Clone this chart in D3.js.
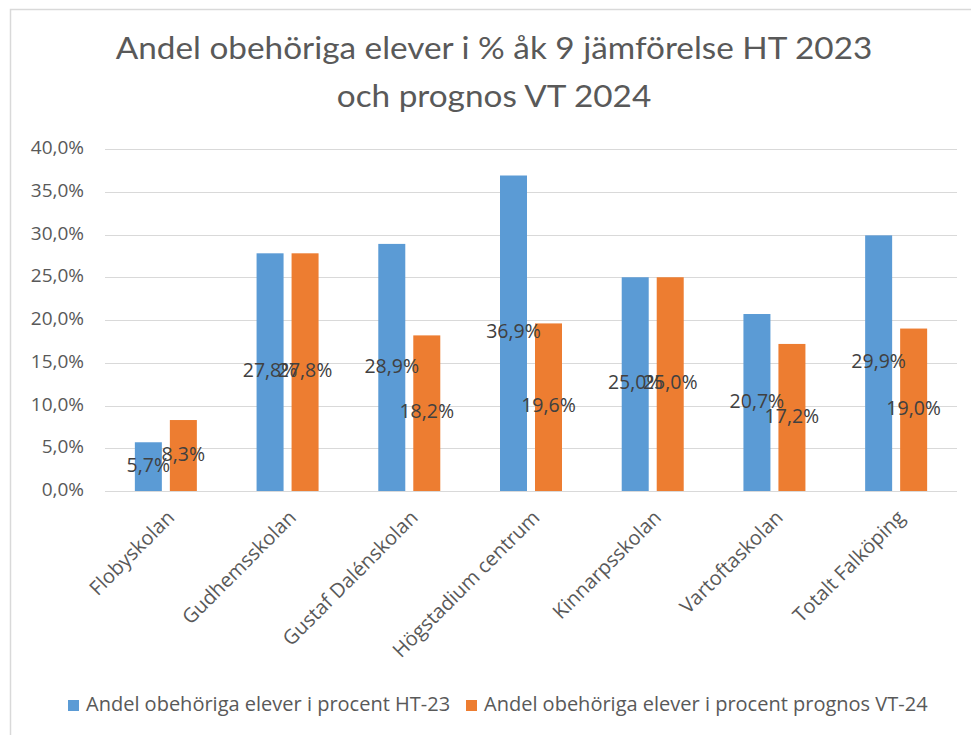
<!DOCTYPE html>
<html><head><meta charset="utf-8">
<script src="https://cdn.jsdelivr.net/npm/d3@7"></script>
<style>body{margin:0;background:#fff}svg{display:block}</style>
</head><body>
<script>
const categories = ["Flobyskolan","Gudhemsskolan","Gustaf Dalénskolan","Högstadium centrum","Kinnarpsskolan","Vartoftaskolan","Totalt Falköping"];
const seriesNames = ["Andel obehöriga elever i procent HT-23","Andel obehöriga elever i procent prognos VT-24"];
const ht23 = [5.7, 27.8, 28.9, 36.9, 25.0, 20.7, 29.9];
const vt24 = [8.3, 27.8, 18.2, 19.6, 25.0, 17.2, 19.0];
const yTicks = [0,5,10,15,20,25,30,35,40];
const titleLines = ["Andel obehöriga elever i % åk 9 jämförelse HT 2023","och prognos VT 2024"];
const colors = ["#5B9BD5","#ED7D31"];

const W = 971, H = 735;
const svg = d3.select("body").append("svg").attr("width",W).attr("height",H);
svg.append("rect").attr("x",10.5).attr("y",9.5).attr("width",W).attr("height",H).attr("fill","#fff").attr("stroke","#D9D9D9").attr("stroke-width",1.5);

const plot = {l:105, r:957, t:149, b:491};
const x0 = d3.scaleBand().domain(categories).range([plot.l, plot.r]).paddingInner(0).paddingOuter(0);
const y = d3.scaleLinear().domain([0,40]).range([plot.b, plot.t]);
const fmt = v => d3.format(".1f")(v).replace(".", ",") + "%";
const FONT = "'Open Sans', sans-serif";

// title (condensed look: scale horizontally to the reference width)
const tg = svg.append("g");
const tt = tg.selectAll("text").data(titleLines).join("text")
  .attr("x",0).attr("y",(d,i)=>i*48).attr("text-anchor","middle").attr("dominant-baseline","middle")
  .attr("font-family","Lato, 'Open Sans', sans-serif").attr("font-size",31).attr("fill","#595959").text(d=>d);
const w1 = tt.nodes()[0].getComputedTextLength();
const k = 757 / w1;
tg.attr("transform",`translate(494,51) scale(${k},1)`);

// gridlines
svg.append("g").selectAll("line").data(yTicks).join("line")
  .attr("x1",plot.l).attr("x2",plot.r).attr("y1",d=>Math.round(y(d))+0.5).attr("y2",d=>Math.round(y(d))+0.5)
  .attr("stroke","#D9D9D9").attr("stroke-width",1.2);

// y axis labels
svg.append("g").selectAll("text").data(yTicks).join("text")
  .attr("x",84).attr("y",d=>y(d)).attr("text-anchor","end").attr("dominant-baseline","middle")
  .attr("font-family",FONT).attr("font-size",19).attr("fill","#595959").text(d=>fmt(d));

const bw = 27, gap = 8;
const series = [ht23, vt24];
const bx = (c, si) => x0(c) + x0.bandwidth()/2 + (si===0 ? -(gap/2+bw) : gap/2);
series.forEach((vals, si) => {
  svg.append("g").selectAll("rect").data(categories).join("rect")
    .attr("x",c=>bx(c,si)).attr("width",bw)
    .attr("y",(c,i)=>y(vals[i])).attr("height",(c,i)=>y(0)-y(vals[i]))
    .attr("fill",colors[si]);
});
// data labels
series.forEach((vals, si) => {
  svg.append("g").selectAll("text").data(categories).join("text")
    .attr("x",c=>bx(c,si)+bw/2).attr("y",(c,i)=>y(vals[i]/2))
    .attr("text-anchor","middle").attr("dominant-baseline","middle")
    .attr("font-family",FONT).attr("font-size",19.5).attr("fill","#404040")
    .text((c,i)=>fmt(vals[i]));
});

// x labels
svg.append("g").selectAll("text").data(categories).join("text")
  .attr("transform",c=>`translate(${x0(c)+x0.bandwidth()/2+6},${515}) rotate(-45)`)
  .attr("text-anchor","end").attr("dominant-baseline","middle")
  .attr("font-family",FONT).attr("font-size",20).attr("fill","#595959").text(c=>c);

// legend
const legX = [68, 466];
const lg = svg.append("g");
seriesNames.forEach((n,i)=>{
  lg.append("rect").attr("x",legX[i]).attr("y",700).attr("width",11).attr("height",11).attr("fill",colors[i]);
  lg.append("text").attr("x",legX[i]+18).attr("y",705.5).attr("dominant-baseline","middle")
    .attr("font-family",FONT).attr("font-size",20).attr("fill","#595959").text(n);
});
</script>
</body></html>
